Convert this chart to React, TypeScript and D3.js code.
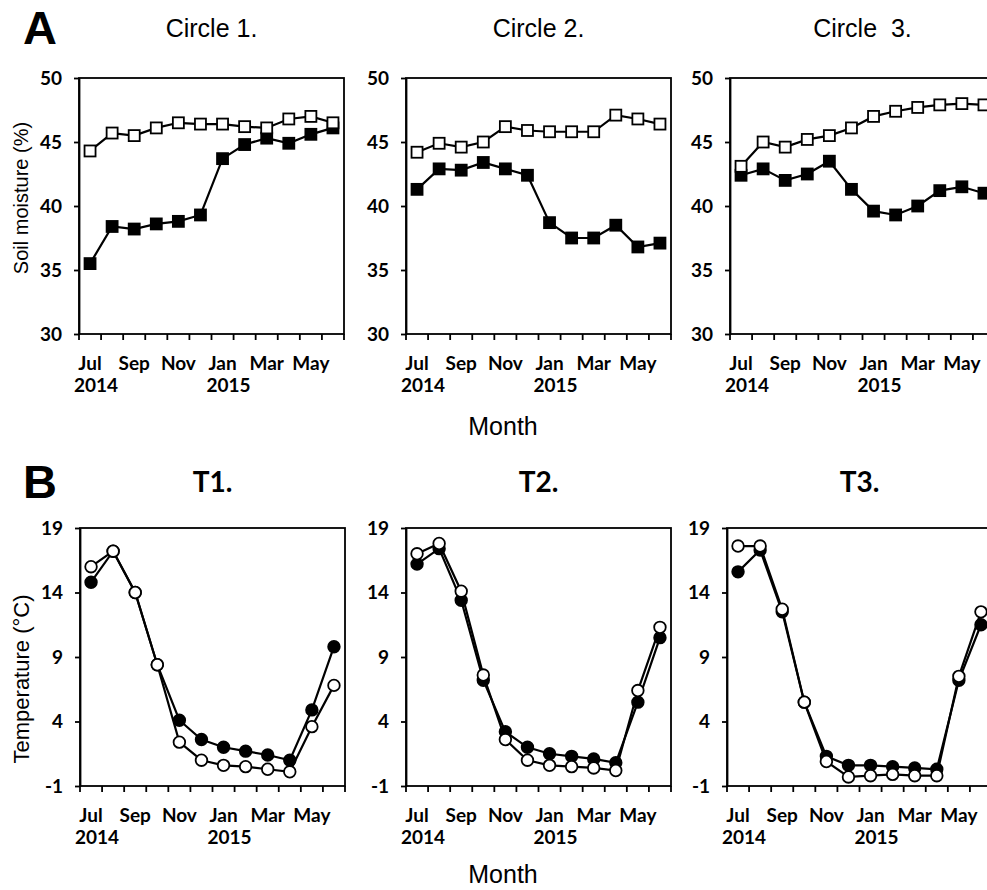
import React, { useRef, useEffect } from 'react';
import * as d3 from 'd3';

// Month bins, Jul 2014 .. Jun 2015
const months = ['Jul', 'Aug', 'Sep', 'Oct', 'Nov', 'Dec', 'Jan', 'Feb', 'Mar', 'Apr', 'May', 'Jun'];
const monthTickLabels = ['Jul', '', 'Sep', '', 'Nov', '', 'Jan', '', 'Mar', '', 'May', ''];
const yearMonths = ['Jul', 'Jan'];
const yearLabels = ['2014', '2015'];

// A: soil moisture (%)
const moistureTitles = ['Circle 1.', 'Circle 2.', 'Circle  3.'];
const moistureTicks = [30, 35, 40, 45, 50];
const moistureOpen = [
    [44.3, 45.7, 45.5, 46.1, 46.5, 46.4, 46.4, 46.2, 46.1, 46.8, 47.0, 46.5],
    [44.2, 44.9, 44.6, 45.0, 46.2, 45.9, 45.8, 45.8, 45.8, 47.1, 46.8, 46.4],
    [43.1, 45.0, 44.6, 45.2, 45.5, 46.1, 47.0, 47.4, 47.7, 47.9, 48.0, 47.9],
];
const moistureFilled = [
    [35.5, 38.4, 38.2, 38.6, 38.8, 39.3, 43.7, 44.8, 45.3, 44.9, 45.6, 46.1],
    [41.3, 42.9, 42.8, 43.4, 42.9, 42.4, 38.7, 37.5, 37.5, 38.5, 36.8, 37.1],
    [42.4, 42.9, 42.0, 42.5, 43.5, 41.3, 39.6, 39.3, 40.0, 41.2, 41.5, 41.0],
];

// B: temperature (°C)
const tempTitles = ['T1.', 'T2.', 'T3.'];
const tempTicks = [-1, 4, 9, 14, 19];
const tempFilled = [
    [14.8, 17.2, 14.0, 8.4, 4.1, 2.6, 2.0, 1.7, 1.4, 1.0, 4.9, 9.8],
    [16.2, 17.4, 13.4, 7.2, 3.2, 2.0, 1.5, 1.3, 1.1, 0.8, 5.5, 10.5],
    [15.6, 17.3, 12.5, 5.5, 1.3, 0.6, 0.6, 0.5, 0.4, 0.3, 7.2, 11.5],
];
const tempOpen = [
    [16.0, 17.2, 14.0, 8.4, 2.4, 1.0, 0.6, 0.5, 0.3, 0.1, 3.6, 6.8],
    [17.0, 17.8, 14.1, 7.6, 2.6, 1.0, 0.6, 0.5, 0.4, 0.2, 6.4, 11.3],
    [17.6, 17.6, 12.7, 5.5, 0.9, -0.3, -0.2, -0.1, -0.2, -0.2, 7.5, 12.5],
];

const W = 987;
const H = 890;
const PANEL_W = 265;
const TICK_FONT = 'Lato, "Open Sans", sans-serif';
const TICK_SIZE = 19;
const SANS = '"Liberation Sans", Arial, sans-serif';

interface RowSpec {
    letter: string;
    letterY: number;
    top: number;
    bottom: number;
    lefts: number[];
    domain: [number, number];
    ticks: number[];
    titles: string[];
    titleY: number;
    titleFont: string;
    titleSize: number;
    titleWeight: string;
    open: number[][];
    filled: number[][];
    marker: 'square' | 'circle';
    yLabel: string;
    yLabelX: number;
    yLabelY: number;
    yLabelSize: number;
    monthTitleY: number;
}

const rows: RowSpec[] = [
    {
        letter: 'A', letterY: 44, top: 78, bottom: 334, lefts: [79, 406, 730],
        domain: [30, 50], ticks: moistureTicks, titles: moistureTitles, titleY: 37,
        titleFont: SANS, titleSize: 25, titleWeight: 'normal',
        open: moistureOpen, filled: moistureFilled, marker: 'square',
        yLabel: 'Soil moisture (%)', yLabelX: 28, yLabelY: 198, yLabelSize: 20, monthTitleY: 435,
    },
    {
        letter: 'B', letterY: 498, top: 528, bottom: 786, lefts: [80, 406, 727],
        domain: [-1, 19], ticks: tempTicks, titles: tempTitles, titleY: 492,
        titleFont: TICK_FONT, titleSize: 28, titleWeight: 'bold',
        open: tempOpen, filled: tempFilled, marker: 'circle',
        yLabel: 'Temperature (°C)', yLabelX: 29, yLabelY: 679, yLabelSize: 22, monthTitleY: 883,
    },
];

export default function App() {
    const svgRef = useRef<SVGSVGElement>(null);

    useEffect(() => {
        if (!svgRef.current) return;
        const svg = d3.select(svgRef.current);
        svg.selectAll('*').remove();

        rows.forEach(row => {
            // panel letter
            svg.append('text')
                .attr('x', 23).attr('y', row.letterY)
                .attr('font-family', SANS).attr('font-weight', 'bold').attr('font-size', 47)
                .text(row.letter);

            // y axis title
            svg.append('text')
                .attr('transform', `translate(${row.yLabelX},${row.yLabelY}) rotate(-90)`)
                .attr('text-anchor', 'middle')
                .attr('font-family', SANS).attr('font-size', row.yLabelSize)
                .text(row.yLabel);

            // x axis title
            svg.append('text')
                .attr('x', 503).attr('y', row.monthTitleY)
                .attr('text-anchor', 'middle')
                .attr('font-family', SANS).attr('font-size', 25)
                .text('Month');

            row.lefts.forEach((left, p) => {
                const x = d3.scaleBand<string>()
                    .domain(months)
                    .range([left, left + PANEL_W])
                    .padding(0);
                const y = d3.scaleLinear()
                    .domain(row.domain)
                    .range([row.bottom, row.top]);
                const cx = (m: string) => (x(m) as number) + x.bandwidth() / 2;

                const g = svg.append('g');

                // title
                g.append('text')
                    .attr('x', left + PANEL_W / 2).attr('y', row.titleY)
                    .attr('text-anchor', 'middle')
                    .attr('font-family', row.titleFont)
                    .attr('font-weight', row.titleWeight)
                    .attr('font-size', row.titleSize)
                    .style('white-space', 'pre')
                    .text(row.titles[p]);

                // frame
                g.append('rect')
                    .attr('x', left).attr('y', row.top)
                    .attr('width', PANEL_W).attr('height', row.bottom - row.top)
                    .attr('fill', 'none').attr('stroke', '#000').attr('stroke-width', 1.8);

                // y axis
                const yAxis = d3.axisLeft(y)
                    .tickValues(row.ticks)
                    .tickSize(5)
                    .tickSizeOuter(0)
                    .tickPadding(12)
                    .tickFormat(d => String(d));
                const ya = g.append('g')
                    .attr('transform', `translate(${left},0)`)
                    .call(yAxis);
                ya.select('.domain').attr('stroke', '#000').attr('stroke-width', 1.8);
                ya.selectAll('line').attr('stroke', '#000').attr('stroke-width', 1.8);
                ya.selectAll('text')
                    .attr('fill', '#000')
                    .attr('font-family', TICK_FONT)
                    .attr('font-weight', 'bold')
                    .attr('font-size', TICK_SIZE);

                // x ticks at month edges
                const edges = d3.range(months.length + 1).map(i => left + i * x.step());
                g.selectAll('.xtick')
                    .data(edges)
                    .enter().append('line')
                    .attr('x1', d => d).attr('x2', d => d)
                    .attr('y1', row.bottom).attr('y2', row.bottom + 6)
                    .attr('stroke', '#000').attr('stroke-width', 1.8);

                g.selectAll('.xlabel')
                    .data(months)
                    .enter().append('text')
                    .attr('x', d => cx(d))
                    .attr('y', row.bottom + 36)
                    .attr('text-anchor', 'middle')
                    .attr('font-family', TICK_FONT)
                    .attr('font-weight', 'bold')
                    .attr('font-size', TICK_SIZE)
                    .text((_, i) => monthTickLabels[i]);

                yearMonths.forEach((m, i) => {
                    g.append('text')
                        .attr('x', cx(m) - 16)
                        .attr('y', row.bottom + 58)
                        .attr('font-family', TICK_FONT)
                        .attr('font-weight', 'bold')
                        .attr('font-size', TICK_SIZE)
                        .text(yearLabels[i]);
                });

                const line = d3.line<number>()
                    .x((_, i) => cx(months[i]))
                    .y(d => y(d));

                const drawSeries = (vals: number[], fill: string) => {
                    g.append('path')
                        .attr('d', line(vals) as string)
                        .attr('fill', 'none')
                        .attr('stroke', '#000')
                        .attr('stroke-width', 2.2);
                    if (row.marker === 'square') {
                        const s = 11;
                        g.selectAll(null)
                            .data(vals)
                            .enter().append('rect')
                            .attr('x', (_, i) => cx(months[i]) - s / 2)
                            .attr('y', d => y(d) - s / 2)
                            .attr('width', s).attr('height', s)
                            .attr('fill', fill)
                            .attr('stroke', '#000').attr('stroke-width', 1.8);
                    } else {
                        g.selectAll(null)
                            .data(vals)
                            .enter().append('circle')
                            .attr('cx', (_, i) => cx(months[i]))
                            .attr('cy', d => y(d))
                            .attr('r', 5.8)
                            .attr('fill', fill)
                            .attr('stroke', '#000').attr('stroke-width', 1.8);
                    }
                };

                drawSeries(row.filled[p], '#000');
                drawSeries(row.open[p], '#fff');
            });
        });
    }, []);

    return (
        <div style={{ position: 'absolute', left: 0, top: 0, width: W, height: H, overflow: 'hidden', background: '#fff' }}>
            <svg ref={svgRef} width={W} height={H} style={{ display: 'block' }} />
        </div>
    );
}
